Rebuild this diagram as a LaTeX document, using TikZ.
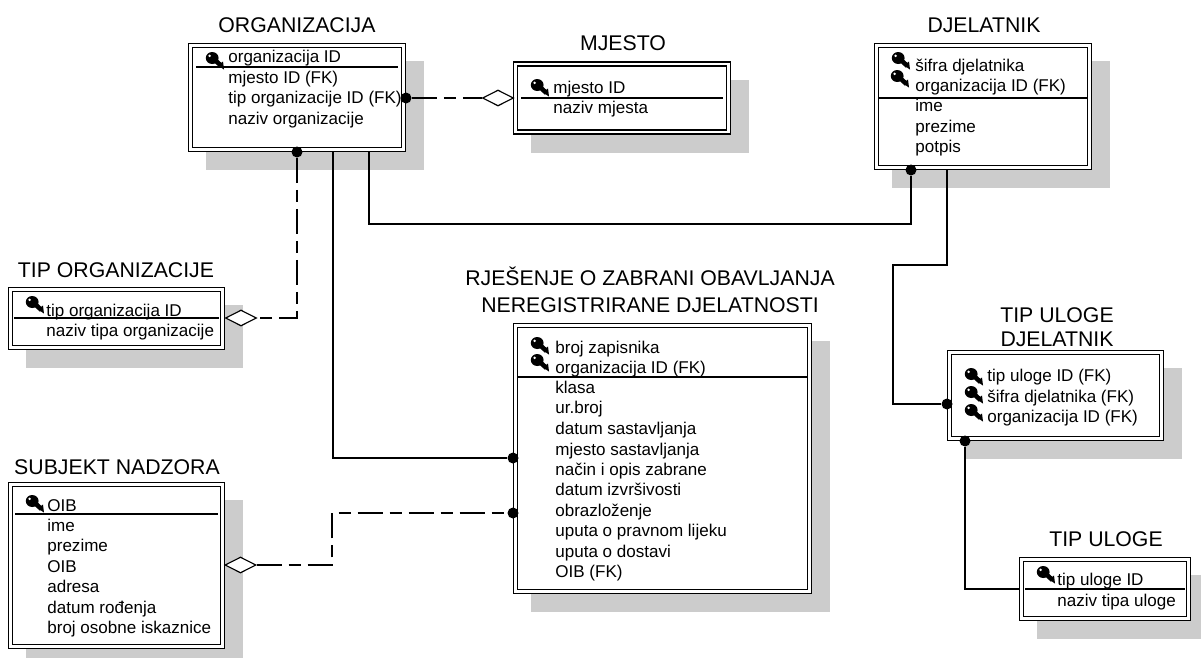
\documentclass[tikz,border=0pt]{standalone}
\usepackage{fontspec}
\setmainfont{Liberation Sans}
\usetikzlibrary{shapes.geometric,shadows}

\definecolor{shadowgray}{RGB}{204,204,204}

\def\px{0.02cm}

\tikzset{
  entity/.style={draw, fill=white, line width=1.4*\px, double, double distance=2.4*\px, inner sep=0pt,
    general shadow={fill=shadowgray, draw=shadowgray, line width=5*\px, shadow xshift=18*\px, shadow yshift=-18*\px}},
  title/.style={anchor=base, inner sep=0pt, font=\fontsize{12.1}{14}\selectfont},
  attr/.style={anchor=base west, inner sep=0pt, font=\fontsize{9.7}{11}\selectfont},
  divider/.style={line width=1.1*\px},
  link/.style={line width=1.15*\px},
  dashedlink/.style={line width=1.15*\px, dash pattern=on 25*\px off 7*\px on 12*\px off 7*\px},
  dot/.style={circle, fill=black, inner sep=0pt, minimum size=11*\px},
  nonident/.style={diamond, draw, fill=white, line width=1.15*\px, inner sep=0pt, minimum width=31*\px, minimum height=16*\px},
  keyicon/.pic={
    \draw[line width=4.6*\px] (6,5.5) -- (15.5,14);
    \fill (18,17.5) -- (12,13.5) -- (17,9.5) -- cycle;
    \fill (6.2,6) ellipse [x radius=6.4, y radius=6];
    \fill[white] (3.6,3.8) circle [radius=1.4];
  }
}

\begin{document}
\begin{tikzpicture}[x=0.02cm, y=-0.02cm]
\useasboundingbox (0,0) rectangle (1201,657);

% entities
\node[entity, minimum width=213*\px, minimum height=104*\px] (ORG) at (297,97.5) {};
\node[entity, minimum width=213*\px, minimum height=68*\px] (MJE) at (622,98) {};
\node[entity, minimum width=213*\px, minimum height=122*\px] (DJE) at (983,106.5) {};
\node[entity, minimum width=212*\px, minimum height=58*\px] (TOR) at (116.5,318.5) {};
\node[entity, minimum width=294*\px, minimum height=266*\px] (RJE) at (662.5,458.5) {};
\node[entity, minimum width=212*\px, minimum height=162*\px] (SUB) at (116.5,565.5) {};
\node[entity, minimum width=212*\px, minimum height=86*\px] (TUD) at (1055.5,395.5) {};
\node[entity, minimum width=167*\px, minimum height=59*\px] (TUL) at (1105,589) {};

% titles
\node[title] (tORG) at (297,32) {ORGANIZACIJA};
\node[title] (tMJE) at (623,50) {MJESTO};
\node[title] (tDJE) at (984,32) {DJELATNIK};
\node[title] (tTOR) at (116,277) {TIP ORGANIZACIJE};
\node[title] (tRJE1) at (650,285) {RJEŠENJE O ZABRANI OBAVLJANJA};
\node[title] (tRJE2) at (650,312) {NEREGISTRIRANE DJELATNOSTI};
\node[title] (tSUB) at (117,474) {SUBJEKT NADZORA};
\node[title] (tTUD1) at (1057,322) {TIP ULOGE};
\node[title] (tTUD2) at (1057,346) {DJELATNIK};
\node[title] (tTUL) at (1106,546) {TIP ULOGE};

% dividers
\draw[divider] (196,67) -- (398,67);
\draw[divider] (521,98) -- (723,98);
\draw[divider] (878,98) -- (1088,98);
\draw[divider] (14,318) -- (219,318);
\draw[divider] (517,377) -- (808,377);
\draw[divider] (15,514) -- (218,514);
\draw[divider] (1025,589) -- (1185,589);

% attributes
\node[attr] (a1) at (228,62) {organizacija ID};
\node[attr] (a2) at (228,83) {mjesto ID (FK)};
\node[attr] (a3) at (228,103) {tip organizacije ID (FK)};
\node[attr] (a4) at (228,124) {naziv organizacije};

\node[attr] (b1) at (553,93) {mjesto ID};
\node[attr] (b2) at (553,113) {naziv mjesta};

\node[attr] (c1) at (915,71) {šifra djelatnika};
\node[attr] (c2) at (915,91) {organizacija ID (FK)};
\node[attr] (c3) at (915,111) {ime};
\node[attr] (c4) at (915,132) {prezime};
\node[attr] (c5) at (915,152) {potpis};

\node[attr] (d1) at (46,316) {tip organizacija ID};
\node[attr] (d2) at (46,336) {naziv tipa organizacije};

\node[attr] (e1) at (555,353) {broj zapisnika};
\node[attr] (e2) at (555,373) {organizacija ID (FK)};
\node[attr] (e3) at (555,393) {klasa};
\node[attr] (e4) at (555,413) {ur.broj};
\node[attr] (e5) at (555,434) {datum sastavljanja};
\node[attr] (e6) at (555,455) {mjesto sastavljanja};
\node[attr] (e7) at (555,475) {način i opis zabrane};
\node[attr] (e8) at (555,495) {datum izvršivosti};
\node[attr] (e9) at (555,516) {obrazloženje};
\node[attr] (e10) at (555,536) {uputa o pravnom lijeku};
\node[attr] (e11) at (555,557) {uputa o dostavi};
\node[attr] (e12) at (555,577) {OIB (FK)};

\node[attr] (f1) at (47,511) {OIB};
\node[attr] (f2) at (47,531) {ime};
\node[attr] (f3) at (47,551) {prezime};
\node[attr] (f4) at (47,572) {OIB};
\node[attr] (f5) at (47,592) {adresa};
\node[attr] (f6) at (47,613) {datum rođenja};
\node[attr] (f7) at (47,633) {broj osobne iskaznice};

\node[attr] (g1) at (987,381) {tip uloge ID (FK)};
\node[attr] (g2) at (987,402) {šifra djelatnika (FK)};
\node[attr] (g3) at (987,422) {organizacija ID (FK)};

\node[attr] (h1) at (1057,585) {tip uloge ID};
\node[attr] (h2) at (1057,606) {naziv tipa uloge};

% keys
\pic at (206,52) {keyicon};
\pic at (531,79) {keyicon};
\pic at (892,52) {keyicon};
\pic at (891,70) {keyicon};
\pic at (26,296) {keyicon};
\pic at (531,337) {keyicon};
\pic at (531,354) {keyicon};
\pic at (26,495) {keyicon};
\pic at (965,368) {keyicon};
\pic at (965,386) {keyicon};
\pic at (965,404) {keyicon};
\pic at (1037,566) {keyicon};

% dots and diamonds
\node[dot] (dORGt) at (297,152) {};
\node[dot] (dORGm) at (406,98) {};
\node[dot] (dDJEo) at (911,170) {};
\node[dot] (dRJEo) at (513,458) {};
\node[dot] (dRJEs) at (513,513) {};
\node[dot] (dTUDd) at (947,404) {};
\node[dot] (dTUDt) at (965,441) {};
\node[nonident] (nMJE) at (498,98) {};
\node[nonident] (nTOR) at (241,318) {};
\node[nonident] (nSUB) at (240.5,565) {};

% free ends
\coordinate (oORGr) at (333,152);
\coordinate (oORGd) at (369,152);
\coordinate (bORG) at (911,224);
\coordinate (oDJE) at (947,170);
\coordinate (bDJE) at (893,265);
\coordinate (bSUB) at (332,565);
\coordinate (oTUL) at (1019,589);

% connectors
\draw[dashedlink] (dORGm) -- (nMJE);
\draw[dashedlink] (dORGt) |- (nTOR);
\draw[dashedlink] (nSUB) -- (bSUB) |- (dRJEs);
\draw[link] (oORGr) |- (dRJEo);
\draw[link] (oORGd) |- (bORG) -- (dDJEo);
\draw[link] (oDJE) |- (bDJE) |- (dTUDd);
\draw[link] (dTUDt) |- (oTUL);

\end{tikzpicture}
\end{document}
